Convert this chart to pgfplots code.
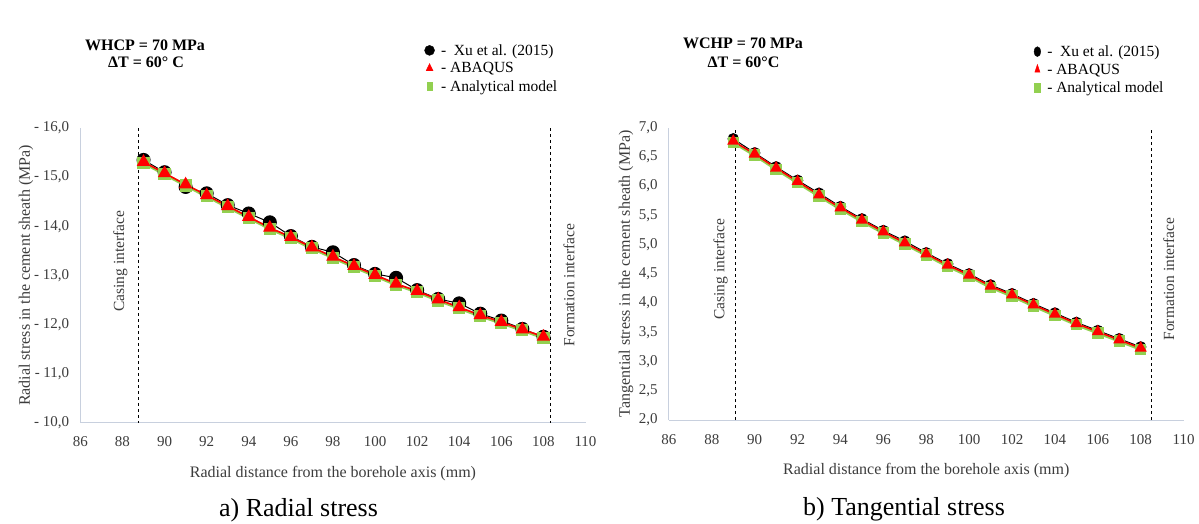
\documentclass[border=0pt]{standalone}
\usepackage{pgfplots}
\usepackage{pgfplotstable}
\pgfplotsset{compat=1.18}
\usepackage{fontspec}
\setmainfont{Liberation Serif}
\definecolor{axgray}{RGB}{200,208,222}
\definecolor{mygreen}{RGB}{146,208,80}
\definecolor{txt}{RGB}{60,60,60}

\pgfplotstableread{
x xu abaqus analytical
89 -15.35 -15.31 -15.29
90 -15.10 -15.08 -15.06
91 -14.80 -14.85 -14.83
92 -14.67 -14.63 -14.61
93 -14.43 -14.41 -14.39
94 -14.26 -14.19 -14.17
95 -14.08 -13.97 -13.95
96 -13.80 -13.78 -13.76
97 -13.58 -13.57 -13.55
98 -13.47 -13.38 -13.36
99 -13.21 -13.19 -13.17
100 -13.03 -13.01 -12.99
101 -12.95 -12.83 -12.81
102 -12.70 -12.68 -12.66
103 -12.52 -12.51 -12.49
104 -12.43 -12.35 -12.33
105 -12.22 -12.19 -12.17
106 -12.08 -12.05 -12.03
107 -11.91 -11.90 -11.88
108 -11.75 -11.75 -11.73
}\radial

\pgfplotstableread{
x xu abaqus analytical
89 6.81 6.77 6.75
90 6.57 6.55 6.53
91 6.33 6.31 6.29
92 6.10 6.08 6.06
93 5.88 5.85 5.83
94 5.65 5.63 5.61
95 5.44 5.42 5.40
96 5.24 5.22 5.20
97 5.06 5.03 5.01
98 4.86 4.84 4.82
99 4.67 4.65 4.63
100 4.50 4.48 4.46
101 4.31 4.29 4.27
102 4.16 4.14 4.12
103 3.99 3.97 3.95
104 3.83 3.81 3.79
105 3.67 3.65 3.63
106 3.53 3.51 3.49
107 3.39 3.37 3.35
108 3.25 3.23 3.21
}\tangential

\pgfplotsset{
  common/.style={
    scale only axis,
    clip=false,
    xmin=86, xmax=110,
    xtick={86,88,...,110},
    axis x line*=bottom,
    axis y line*=left,
    axis line style={axgray, line width=1bp},
    major tick length=0pt,
    tick label style={font=\fontsize{15bp}{17bp}\selectfont, text=txt},
    xticklabel style={anchor=north, inner sep=0pt, yshift=-14bp},
    yticklabel style={anchor=east, inner sep=0pt, xshift=-11bp},
    /pgf/number format/assume math mode=true,
    label style={font=\fontsize{16bp}{18bp}\selectfont, text=txt},
    xlabel style={at={(axis description cs:0.5,0)}, anchor=center, yshift=-51bp},
    legend image code/.code={\draw[##1] plot coordinates {(0bp,0bp)};},
    legend style={draw=none, fill=none, font=\fontsize{15.5bp}{17bp}\selectfont,
      anchor=north west, inner sep=0pt, row sep=3bp, column sep=5bp,
      nodes={inner sep=1.5bp}},
    legend cell align=left,
  }
}

\begin{document}
\begin{tikzpicture}[font=\fontsize{14bp}{16bp}\selectfont]
\useasboundingbox (0bp,0bp) rectangle (1199bp,-524bp);

% ---------------- Left: radial stress ----------------
\begin{axis}[common,
  at={(80.4bp,-422.7bp)}, anchor=south west,
  width=505.1bp, height=294.7bp,
  ymin=-16, ymax=-10, y dir=reverse,
  ytick={-16,-15,-14,-13,-12,-11,-10},
  yticklabels={{- 16,0},{- 15,0},{- 14,0},{- 13,0},{- 12,0},{- 11,0},{- 10,0}},
  xlabel={Radial distance from the borehole axis (mm)},
  ylabel={Radial stress in the cement sheath (MPa)},
  ylabel style={at={(axis description cs:-0.1077,0.5)}, anchor=center},
  legend style={at={(axis description cs:0.681,1.29)}},
]
\addlegendimage{only marks, mark=*, mark size=5bp, black}
\addlegendentry{-\ \ Xu et al. (2015)}
\addlegendimage{only marks, mark=triangle*, mark size=4bp, red, mark options={yscale=1.2}}
\addlegendentry{- ABAQUS}
\addlegendimage{only marks, mark=square*, mark size=3.5bp, mygreen, mark options={xscale=0.8, yscale=1.2}}
\addlegendentry{- Analytical model}

\addplot[black, dashed, line width=0.9bp, forget plot] coordinates {(88.76,-16) (88.76,-10)};
\addplot[black, dashed, line width=0.9bp, forget plot] coordinates {(108.32,-16) (108.32,-10)};

\addplot[black, line width=1bp, mark=*, mark size=6.5bp, forget plot] table[x=x, y=xu] {\radial};
\addplot[mygreen, line width=3bp, mark=square*, mark size=4.6bp, forget plot] table[x=x, y=analytical] {\radial};
\addplot[red, line width=1.6bp, mark=triangle*, mark size=6.2bp, forget plot] table[x=x, y=abaqus] {\radial};

\node[rotate=90, font=\fontsize{15.5bp}{17bp}\selectfont, text=txt] at (axis cs:87.9,-13.29) {Casing interface};
\node[rotate=90, font=\fontsize{15.5bp}{17bp}\selectfont, text=txt] at (axis cs:109.21,-12.80) {Formation interface};
\end{axis}

\node[font=\bfseries\fontsize{16bp}{18bp}\selectfont] at (145bp,-45bp) {WHCP = 70 MPa};
\node[font=\bfseries\fontsize{16bp}{18bp}\selectfont] at (146bp,-62bp) {ΔT = 60° C};
\node[font=\fontsize{26bp}{30bp}\selectfont] at (298.5bp,-510bp) {a) Radial stress};

% ---------------- Right: tangential stress ----------------
\begin{axis}[common,
  at={(668.9bp,-420bp)}, anchor=south west,
  width=514.7bp, height=292.3bp,
  ymin=2, ymax=7,
  ytick={2,2.5,...,7},
  yticklabel style={/pgf/number format/.cd, use comma, fixed, fixed zerofill, precision=1},
  xlabel={Radial distance from the borehole axis (mm)},
  ylabel={Tangential stress in the cement sheath (MPa)},
  ylabel style={at={(axis description cs:-0.0835,0.5)}, anchor=center},
  legend style={at={(axis description cs:0.709,1.287)}},
]
\addlegendimage{only marks, mark=*, mark size=4.5bp, black, mark options={xscale=0.75, yscale=1.1}}
\addlegendentry{-\ \ Xu et al. (2015)}
\addlegendimage{only marks, mark=triangle*, mark size=4bp, red, mark options={xscale=0.75, yscale=1.3}}
\addlegendentry{- ABAQUS}
\addlegendimage{only marks, mark=square*, mark size=3.5bp, mygreen, mark options={xscale=0.85, yscale=1.2}}
\addlegendentry{- Analytical model}

\addplot[black, dashed, line width=0.9bp, forget plot] coordinates {(89.12,2) (89.12,7)};
\addplot[black, dashed, line width=0.9bp, forget plot] coordinates {(108.48,2) (108.48,7)};

\addplot[black, line width=1bp, mark=*, mark size=5.2bp, forget plot] table[x=x, y=xu] {\tangential};
\addplot[mygreen, line width=3bp, mark=square*, mark size=4.2bp, forget plot] table[x=x, y=analytical] {\tangential};
\addplot[red, line width=1.6bp, mark=triangle*, mark size=5.4bp, forget plot] table[x=x, y=abaqus] {\tangential};

\node[rotate=90, font=\fontsize{15.5bp}{17bp}\selectfont, text=txt] at (axis cs:88.41,4.58) {Casing interface};
\node[rotate=90, font=\fontsize{15.5bp}{17bp}\selectfont, text=txt] at (axis cs:109.31,4.41) {Formation interface};
\end{axis}

\node[font=\bfseries\fontsize{16bp}{18bp}\selectfont] at (743bp,-43bp) {WCHP = 70 MPa};
\node[font=\bfseries\fontsize{16bp}{18bp}\selectfont] at (743.5bp,-62bp) {ΔT = 60°C};
\node[font=\fontsize{26bp}{30bp}\selectfont] at (904bp,-509bp) {b) Tangential stress};
\end{tikzpicture}
\end{document}
